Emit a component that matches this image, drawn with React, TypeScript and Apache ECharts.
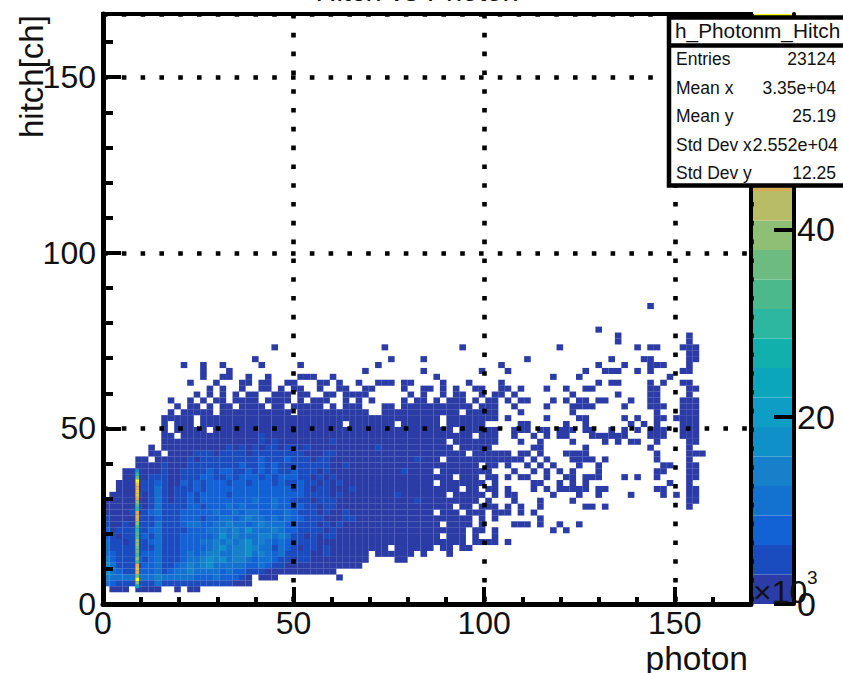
import React, { useEffect, useRef } from "react";
import * as echarts from "echarts";

const FONT = "Liberation Sans";
const xTicks = [0, 50, 100, 150];
const yTicks = [0, 50, 100, 150];
const xBinWidth = 1.7;
const yBinWidth = 1.68;
const bandWidth = 3.15;

const palette = ["#2b3ca6", "#1a4cbf", "#1261d5", "#1371cf", "#1680cb", "#1090c8", "#0e9ec5", "#0ba6bb", "#12b0ac", "#2cb8a0", "#4cb98c", "#6dbb80", "#8fbf74", "#b8bc66", "#d9aa55", "#e8b04a", "#f5c03a", "#fbd030", "#fde225", "#ffff00"];

// Cell bands per coarse bin, row 33 down to row 2, columns 0-60
const bodyRows = [
  ".......... .0.00.0.00 .0000.00.0 0000.0.000 ...00.0000 0000000.00 0",
  ".......... 0.00000.00 000000000. 0000000000 0..0000000 00000.0000 0",
  ".........0 0000.00000 0000000000 0000000000 0000000000 00.0000000 0",
  ".........0 .000.00000 0000000000 0000000.00 00000.0000 00.000000. .",
  ".........0 .00000.000 0000000000 0000000000 0000000000 0000.00000 0",
  ".........0 0.00000000 0000100000 0000000000 0000000000 0000000.00 0",
  ".........0 0000000000 0000101000 0000010000 0000000000 000.000000 0",
  ".......0.0 0000000001 0101011011 0100000000 0010000000 0000.00000 .",
  ".......00. 0000111011 1101111111 1000110000 0000000000 000000.000 0",
  ".....00.00 0001011111 1111211121 1101100000 0000000010 00.0000000 0",
  ".....00001 0001111111 1211212111 1111100100 0000000000 00000000.0 0",
  "...0000001 0011112122 1121212112 1110100000 0000001000 0.00000000 .",
  "...0000111 0011122112 1222121222 1101010000 0000000000 0000.000.0 0",
  "..00001121 0021212221 2212221211 2110101000 0000000000 0.0000000. 0",
  "..00001131 0111212222 2222222221 2101100010 0000000000 00000.00.0 0",
  ".000010131 0112122221 2222222222 2111101000 0000010000 000.00000. 0",
  "0000000131 0112122222 2223223221 1101110000 0000000010 00000000.0 .",
  "0000010131 1112212223 2322223221 2110110000 0000000000 0000.00.00 0",
  "0000101231 1122222322 3233222232 1110100100 0000000000 0.000.000. 0",
  "1000011121 1122212233 2343323232 2111000110 0000000000 0000000.0. 0",
  "1001011131 1123322334 3323433322 1110101000 0000000000 00.0000.0. .",
  "2011111231 1112223343 4353334322 1111010000 0000000000 000000.00. 0",
  "2101112131 1122222353 4333443431 1010110000 0000000000 00.000.0.. 0",
  "3110111231 1122233434 3453432321 1110000000 0000000000 000000.000 0",
  "3111111131 1122223453 4454331321 0110100000 0000.00000 0.00.00... .",
  "3211112231 1123234433 4453432311 1100100000 0.000000.0 ...0...... .",
  "4211121231 1123345453 4432332110 1100000000 0....00... .......... .",
  "5311112231 1234345333 3322321100 0000000000 .......... .......... .",
  "5321122231 2334333323 2211100000 000000.... .......... .......... .",
  "4333333343 3333222322 210.000... ......0... .......... .......... .",
  "3211111131 1111111111 000....... .......... .......... .......... .",
  ".000.0000. .0.00..... .......... .......... .......... .......... .",
];
const bodyTopRow = 33;

// Isolated occupied columns by row
const scatterRows: number[][] = [
  [50, 84],
  [46, 76],
  [45, 79, 90],
  [44, 79, 90],
  [43, 26, 43, 55, 70, 82, 84, 85, 89, 90, 91],
  [42, 90, 91],
  [41, 23, 44, 49, 65, 78, 83, 84, 90, 91],
  [40, 12, 15, 18, 24, 30, 42, 61, 76, 80, 84, 85, 86, 90],
  [39, 15, 19, 40, 49, 58, 62, 74, 77, 78, 79, 82, 84, 89, 90],
  [38, 15, 18, 19, 22, 25, 30, 31, 32, 35, 51, 69, 73, 87],
  [37, 13, 17, 21, 22, 24, 25, 28, 29, 33, 34, 36, 39, 42, 43, 44, 46, 47, 52, 56, 61, 76, 78, 79, 84, 86, 89, 90],
  [36, 16, 18, 21, 24, 25, 27, 29, 30, 33, 36, 37, 40, 41, 46, 49, 50, 52, 54, 57, 58, 61, 62, 64, 68, 71, 74, 75, 84, 85, 90, 91],
  [35, 14, 16, 18, 20, 22, 23, 26, 27, 28, 30, 31, 34, 35, 37, 38, 39, 40, 47, 49, 52, 54, 55, 58, 60, 61, 63, 72, 79, 84, 85, 90],
  [34, 10, 13, 15, 17, 18, 20, 21, 22, 23, 25, 26, 27, 28, 30, 32, 33, 34, 37, 39, 41, 46, 48, 49, 51, 53, 54, 55, 57, 59, 60, 62, 64, 65, 69, 71, 73, 74, 76, 77, 81, 84, 85, 89, 90, 91],
  [33, 63, 68, 72, 73, 74, 75, 80, 84, 85, 86, 89, 90, 91],
  [32, 64, 72, 85, 89, 90, 91],
  [31, 62, 68, 73, 74, 80, 82, 85, 86, 88, 89, 90, 91],
  [30, 64, 65, 71, 74, 81, 83, 85, 89, 90, 91],
  [29, 63, 64, 65, 67, 68, 70, 71, 72, 74, 75, 78, 80, 82, 84, 85, 86, 89, 90, 91],
  [28, 63, 66, 68, 70, 71, 75, 76, 77, 78, 79, 80, 84, 85, 86, 89, 90, 91],
  [27, 64, 67, 72, 77, 79, 81, 82, 85, 90, 91],
  [26, 66, 67, 74, 84, 90],
  [25, 61, 62, 64, 65, 67, 71, 72, 73, 74, 85, 90, 91, 92],
  [24, 61, 62, 63, 64, 66, 68, 72, 73, 74, 75, 77, 85, 90],
  [23, 62, 65, 67, 69, 73, 76, 86, 87, 90, 91],
  [22, 63, 66, 68, 70, 72, 76, 85, 86, 90, 91],
  [21, 62, 64, 65, 68, 71, 72, 74, 75, 76, 80, 82, 85, 90, 91],
  [20, 66, 67, 70, 72, 74, 87, 90],
  [19, 62, 66, 68, 70, 71, 72, 73, 74, 76, 77, 85, 86, 90, 91],
  [18, 62, 63, 69, 73, 76, 81, 86, 88, 90, 91],
  [17, 63, 67, 72, 90, 91],
  [16, 62, 64, 67, 74, 75, 77, 90],
  [15, 61, 62, 64, 66],
  [14, 67],
  [13, 63, 64, 65, 67, 70, 73],
  [12, 69, 71],
  [10, 62],
];

// The bright photon = 9 column: y value and colour band
const spikeX = 9;
const spikeY = [38, 37, 36, 35, 34, 33, 32, 31, 30, 29, 28, 27, 26, 25, 24, 23, 22, 21, 20, 19, 18, 17, 16, 15, 14, 13, 12, 11, 10, 9, 8, 7, 6, 5];
const spikeBand = [5, 9, 11, 19, 16, 15, 16, 16, 14, 12, 10, 9, 14, 15, 14, 12, 10, 9, 10, 10, 12, 12, 11, 11, 10, 12, 10, 15, 16, 15, 11, 19, 12, 7];

const statsTitle = "h_Photonm_Hitch";
const statsLabels = ["Entries", "Mean x", "Mean y", "Std Dev x", "Std Dev y"];
const statsValues = ["23124", "3.35e+04", "25.19", "2.552e+04", "12.25"];
const statsY = [59, 88, 116, 145, 173];

function App() {
  const ref = useRef<HTMLDivElement>(null);
  useEffect(() => {
    const chart = echarts.init(ref.current!, null, { renderer: "svg" });
    const cells: number[][] = [];
    const cellAt = (col: number, row: number, band: number) => [
      (col + 0.5) * xBinWidth,
      (row + 0.5) * yBinWidth,
      (band + 0.5) * bandWidth,
    ];
    bodyRows.forEach((s, i) => {
      const row = bodyTopRow - i;
      s.replace(/ /g, "").split("").forEach((c, col) => {
        if (c !== ".") cells.push(cellAt(col, row, Number(c)));
      });
    });
    scatterRows.forEach(([row, ...cols]) => cols.forEach((col) => cells.push(cellAt(col, row, 0))));
    const spike = spikeY.map((y, i) => [spikeX, y, (spikeBand[i] + 0.5) * bandWidth]);
    const colorOf = (p: any) => palette[Math.min(19, Math.floor(p.value[2] / bandWidth))];
    const axisText = { fontFamily: FONT, fontSize: 32, color: "#111" };
    const txt = (text: string, x: number, y: number, fontSize: number, align = "left", extra: any = {}) => ({
      type: "text",
      x,
      y,
      z: 100,
      style: { text, fontFamily: FONT, fontSize, fill: "#111", align, verticalAlign: "middle" },
      ...extra,
    });
    chart.setOption({
      animation: false,
      backgroundColor: "#fff",
      grid: [
        { left: 103, right: 92, top: 14, bottom: 69, show: true, borderColor: "#000", borderWidth: 4, backgroundColor: "#fff" },
        { left: 753, right: 49, top: 14, bottom: 69, show: false },
      ],
      xAxis: [
        {
          gridIndex: 0, type: "value", min: 0, max: 170, interval: xTicks[1] - xTicks[0], z: 10,
          axisLine: { show: true, lineStyle: { color: "#000", width: 5 } },
          axisTick: { show: true, inside: true, length: 17, lineStyle: { color: "#000", width: 4 } },
          minorTick: { show: true, splitNumber: 5, length: 7, lineStyle: { color: "#000", width: 4 } },
          splitLine: { show: true, lineStyle: { color: "#000", width: 4.6, type: [4.6, 14.2] } },
          axisLabel: { ...axisText, margin: 3, showMaxLabel: false, formatter: (v: number) => (xTicks.includes(v) ? String(v) : "") },
        },
        { gridIndex: 1, type: "category", data: ["z"], show: false },
      ],
      yAxis: [
        {
          gridIndex: 0, type: "value", min: 0, max: 168, interval: yTicks[1] - yTicks[0], z: 10,
          axisLine: { show: true, lineStyle: { color: "#000", width: 5 } },
          axisTick: { show: true, inside: true, length: 18, lineStyle: { color: "#000", width: 4 } },
          minorTick: { show: true, splitNumber: 5, length: 10, lineStyle: { color: "#000", width: 4 } },
          splitLine: { show: true, lineStyle: { color: "#000", width: 4.6, type: [4.6, 14.2] } },
          axisLabel: { ...axisText, margin: 7, showMaxLabel: false, formatter: (v: number) => (yTicks.includes(v) ? String(v) : "") },
        },
        {
          gridIndex: 1, type: "value", position: "right", min: 0, max: 63, interval: 20, z: 10,
          splitLine: { show: false },
          axisLine: { show: true, lineStyle: { color: "#000", width: 4 } },
          axisTick: { show: true, inside: true, length: 20, lineStyle: { color: "#000", width: 4 } },
          axisLabel: { ...axisText, fontSize: 34, margin: 3, showMaxLabel: false },
        },
      ],
      series: [
        {
          type: "scatter", xAxisIndex: 0, yAxisIndex: 0, symbol: "rect", symbolSize: [6.6, 6.05],
          data: cells, itemStyle: { color: colorOf, opacity: 1 }, silent: true,
        },
        {
          type: "scatter", xAxisIndex: 0, yAxisIndex: 0, symbol: "rect", symbolSize: [3.4, 3.6],
          data: spike, itemStyle: { color: colorOf, opacity: 1 }, silent: true,
        },
        ...palette.map((color) => ({
          type: "bar", xAxisIndex: 1, yAxisIndex: 1, stack: "scale", barWidth: "100%",
          data: [bandWidth], itemStyle: { color }, silent: true,
        })),
      ],
      graphic: [
        txt("Hitch vs Photon", 417, -9, 29, "center"),
        txt("photon", 748, 658, 33.5, "right"),
        txt("hitch[ch]", 31, 138, 33, "left", { rotation: Math.PI / 2 }),
        txt("×10", 753, 592, 32),
        txt("3", 807, 577, 19),
        { type: "rect", z: 90, shape: { x: 669, y: 17.5, width: 180, height: 168 }, style: { fill: "#fff", stroke: "#000", lineWidth: 4.5 } },
        { type: "line", z: 90, shape: { x1: 669, y1: 45.5, x2: 843, y2: 45.5 }, style: { stroke: "#000", lineWidth: 4.5 } },
        txt(statsTitle, 675, 30, 20.8),
        ...statsLabels.map((s, i) => txt(s, 676, statsY[i], 17.5)),
        ...statsValues.map((s, i) => txt(s, i === 3 ? 838 : 836, statsY[i], i === 3 ? 18 : 17.5, "right")),
      ],
    });
    return () => chart.dispose();
  }, []);
  return <div ref={ref} style={{ position: "fixed", left: 0, top: 0, width: 843, height: 673 }} />;
}

export default App;
